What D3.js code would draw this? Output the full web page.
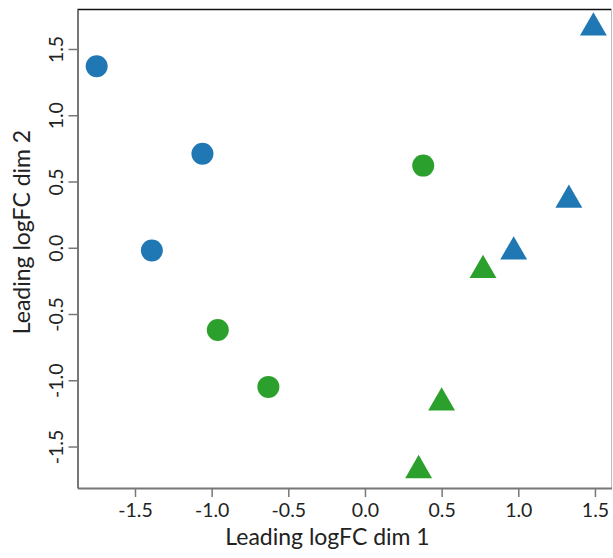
<!DOCTYPE html>
<html>
<head>
<meta charset="utf-8">
<script src="https://cdn.jsdelivr.net/npm/d3@7"></script>
<style>
  body { margin: 0; background: #fff; }
  .tick text { font-family: Lato, "Open Sans", sans-serif; font-size: 19.5px; fill: #222; }
  .aText { font-family: Lato, "Open Sans", sans-serif; font-size: 23px; fill: #222; }
</style>
</head>
<body>
<div id="scatter"></div>
<script>
// MDS plot values
var dim1 = [-1.75, -1.06, -1.39, 0.38, -0.96, -0.63, 1.49, 1.33, 0.97, 0.77, 0.50, 0.35];
var dim2 = [1.37, 0.71, -0.02, 0.62, -0.62, -1.05, 1.66, 0.36, -0.03, -0.17, -1.17, -1.68];
var group = ["blue", "blue", "blue", "green", "green", "green", "blue", "blue", "blue", "green", "green", "green"];
var shape = ["circle", "circle", "circle", "circle", "circle", "circle", "triangle", "triangle", "triangle", "triangle", "triangle", "triangle"];
var xTicks = [-1.5, -1.0, -0.5, 0.0, 0.5, 1.0, 1.5];
var yTicks = [-1.5, -1.0, -0.5, 0.0, 0.5, 1.0, 1.5];

var colors = { blue: "#1f77b4", green: "#2ca02c" };

var svgWidth = 613;
var svgHeight = 558;

var margin = { top: 9.5, right: 1.5, bottom: 70, left: 77.5 };
var width = svgWidth - margin.left - margin.right;
var height = svgHeight - margin.top - margin.bottom;

var svg = d3.select("#scatter")
  .append("svg")
  .attr("width", svgWidth)
  .attr("height", svgHeight);

var chartGroup = svg.append("g")
  .attr("transform", `translate(${margin.left}, ${margin.top})`);

var points = dim1.map(function(d, i) {
  return { x: d, y: dim2[i], group: group[i], shape: shape[i] };
});

// Scales
var xLinearScale = d3.scaleLinear()
  .domain([-1.875, 1.608])
  .range([0, width]);

var yLinearScale = d3.scaleLinear()
  .domain([-1.813, 1.798])
  .range([height, 0]);

// top and right frame lines
chartGroup.append("line")
  .attr("x1", 0).attr("x2", width)
  .attr("y1", 0).attr("y2", 0)
  .attr("stroke", "#111").attr("stroke-width", 1.6);

chartGroup.append("line")
  .attr("x1", width).attr("x2", width)
  .attr("y1", 0).attr("y2", height)
  .attr("stroke", "#bbb").attr("stroke-width", 1);

// Axes
var bottomAxis = d3.axisBottom(xLinearScale)
  .tickValues(xTicks)
  .tickFormat(d => d.toFixed(1))
  .tickSizeInner(9)
  .tickSizeOuter(0)
  .tickPadding(6);

var leftAxis = d3.axisLeft(yLinearScale)
  .tickValues(yTicks)
  .tickFormat(d => d.toFixed(1))
  .tickSizeInner(9)
  .tickSizeOuter(0);

var xAxisG = chartGroup.append("g")
  .attr("transform", `translate(0, ${height})`)
  .call(bottomAxis);

var yAxisG = chartGroup.append("g")
  .call(leftAxis);

[xAxisG, yAxisG].forEach(function(g) {
  g.select(".domain").attr("stroke", "#777").attr("stroke-width", 2);
  g.selectAll(".tick line").attr("stroke", "#777").attr("stroke-width", 1.5);
});

// rotated y tick labels, like R's default
yAxisG.selectAll(".tick text")
  .attr("transform", "rotate(-90)")
  .attr("x", 0)
  .attr("y", -14.5)
  .attr("dy", 0)
  .attr("text-anchor", "middle");

// Points
chartGroup.selectAll(".dot")
  .data(points.filter(d => d.shape === "circle"))
  .enter()
  .append("circle")
  .attr("class", "dot")
  .attr("cx", d => xLinearScale(d.x))
  .attr("cy", d => yLinearScale(d.y))
  .attr("r", 11)
  .attr("fill", d => colors[d.group]);

var tri = d3.symbol().type(d3.symbolTriangle).size(313);

chartGroup.selectAll(".tri")
  .data(points.filter(d => d.shape === "triangle"))
  .enter()
  .append("path")
  .attr("class", "tri")
  .attr("d", tri)
  .attr("transform", d => `translate(${xLinearScale(d.x)},${yLinearScale(d.y)})`)
  .attr("fill", d => colors[d.group]);

// Axis labels
chartGroup.append("text")
  .attr("class", "aText")
  .attr("text-anchor", "middle")
  .attr("x", 327.5 - margin.left)
  .attr("y", 545 - margin.top)
  .text("Leading logFC dim 1");

chartGroup.append("text")
  .attr("class", "aText")
  .attr("text-anchor", "middle")
  .attr("transform", `translate(${30 - margin.left}, ${232 - margin.top}) rotate(-90)`)
  .text("Leading logFC dim 2");
</script>
</body>
</html>
